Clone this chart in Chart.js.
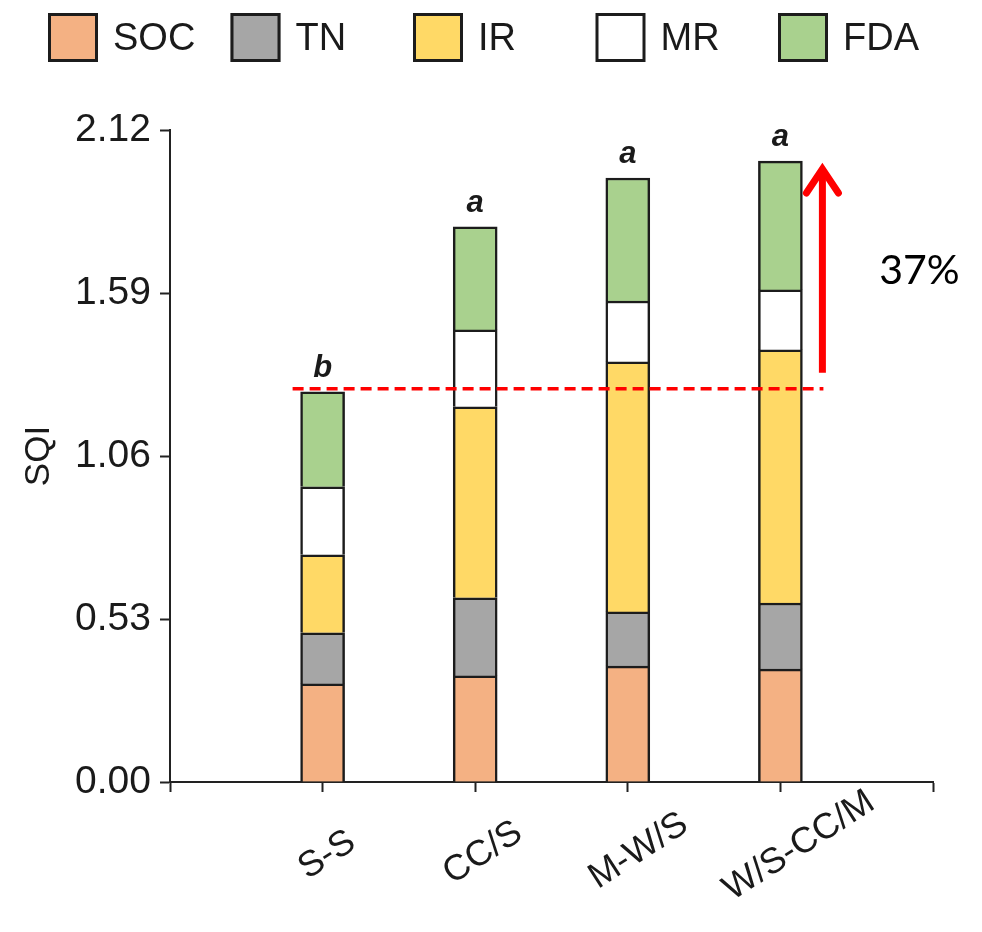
<!DOCTYPE html>
<html>
<head>
<meta charset="utf-8">
<title>SQI by rotation</title>
<script src="https://cdn.jsdelivr.net/npm/chart.js@4.4.1/dist/chart.umd.min.js"></script>
<style>
  html, body { margin: 0; padding: 0; background: #ffffff; }
  #wrap { width: 982px; height: 932px; }
</style>
</head>
<body>
<div id="wrap"><canvas id="chart" width="982" height="932"></canvas></div>
<script>
// Cropping systems on the x axis
const categories = ['S-S', 'CC/S', 'M-W/S', 'W/S-CC/M'];

// Contribution of each indicator to the soil quality index (stacked)
const socValues = [0.319, 0.345, 0.377, 0.367];
const tnValues  = [0.166, 0.254, 0.176, 0.215];
const irValues  = [0.254, 0.621, 0.813, 0.823];
const mrValues  = [0.221, 0.250, 0.198, 0.195];
const fdaValues = [0.309, 0.335, 0.400, 0.419];

// Significance letters above each bar
const groupLetters = ['b', 'a', 'a', 'a'];

// Y axis tick values
const yTicks = [0.00, 0.53, 1.06, 1.59, 2.12];

// Increase annotation
const increaseLabel = '37%';

const seriesNames  = ['SOC', 'TN', 'IR', 'MR', 'FDA'];
const seriesValues = [socValues, tnValues, irValues, mrValues, fdaValues];
const seriesColors = ['#f4b183', '#a6a6a6', '#ffd966', '#ffffff', '#a9d18e'];

const FONT = '"Liberation Sans", Arial, Helvetica, sans-serif';
const INK = '#1a1a1a';

// Empty slots on both ends leave half-gaps before the first and after the last bar
const axisLabels = ['', ...categories, ''];

const datasets = seriesNames.map((name, k) => ({
  label: name,
  data: [null, ...seriesValues[k], null],
  backgroundColor: seriesColors[k],
  borderColor: '#1c1c1c',
  borderWidth: 2.5,
  borderSkipped: 'start',
  barThickness: 44
}));

const totals = categories.map((_, i) => seriesValues.reduce((s, arr) => s + arr[i], 0));

// Legend row, evenly spaced cells
const legendRow = {
  id: 'legendRow',
  afterDraw(chart) {
    const ctx = chart.ctx;
    const startX = 48, step = 182.5, boxW = 50, boxH = 49, boxY = 13;
    ctx.save();
    chart.data.datasets.forEach((ds, k) => {
      const bx = startX + k * step;
      ctx.fillStyle = ds.backgroundColor;
      ctx.fillRect(bx, boxY, boxW, boxH);
      ctx.lineWidth = 3;
      ctx.strokeStyle = '#1c1c1c';
      ctx.strokeRect(bx + 1.5, boxY + 1.5, boxW - 3, boxH - 3);
      ctx.fillStyle = INK;
      ctx.font = '38px ' + FONT;
      ctx.textAlign = 'left';
      ctx.textBaseline = 'middle';
      ctx.fillText(ds.label, bx + boxW + 15, boxY + boxH / 2 + 2);
    });
    ctx.restore();
  }
};

// Letters, baseline line, arrow, percentage, category labels
const annotations = {
  id: 'annotations',
  afterDraw(chart) {
    const ctx = chart.ctx;
    const xs = chart.scales.x, ys = chart.scales.y;
    ctx.save();

    // significance letters
    ctx.fillStyle = INK;
    ctx.font = 'italic bold 31px ' + FONT;
    ctx.textAlign = 'center';
    ctx.textBaseline = 'alphabetic';
    categories.forEach((c, i) => {
      const px = xs.getPixelForValue(i + 1);
      const py = ys.getPixelForValue(totals[i]);
      ctx.fillText(groupLetters[i], px, py - 15);
    });

    // dashed reference line at the first system's total
    const baseY = ys.getPixelForValue(totals[0]) - 3;
    const lastX = xs.getPixelForValue(categories.length);
    const arrowX = lastX + 42;
    ctx.strokeStyle = '#ff0000';
    ctx.lineWidth = 3.5;
    ctx.setLineDash([11, 6]);
    ctx.beginPath();
    ctx.moveTo(xs.getPixelForValue(1) - 30, baseY);
    ctx.lineTo(arrowX + 1, baseY);
    ctx.stroke();
    ctx.setLineDash([]);

    // upward arrow to the highest total
    const topY = ys.getPixelForValue(totals[categories.length - 1]);
    const apex = topY + 8;
    const bottom = baseY - 16;
    ctx.lineWidth = 7;
    ctx.lineCap = 'butt';
    ctx.beginPath();
    ctx.moveTo(arrowX, bottom);
    ctx.lineTo(arrowX, apex + 4);
    ctx.stroke();
    ctx.lineCap = 'round';
    ctx.lineJoin = 'miter';
    ctx.beginPath();
    ctx.moveTo(arrowX - 16, apex + 24);
    ctx.lineTo(arrowX, apex);
    ctx.lineTo(arrowX + 16, apex + 24);
    ctx.stroke();

    // percentage text
    ctx.fillStyle = '#000000';
    ctx.font = '41px Lato, "Open Sans", sans-serif';
    ctx.textAlign = 'center';
    ctx.textBaseline = 'middle';
    ctx.fillText(increaseLabel, arrowX + 97, (apex + bottom) / 2);

    // rotated category labels, anchored a little left of the text centre
    ctx.fillStyle = INK;
    ctx.font = '36px ' + FONT;
    ctx.textAlign = 'left';
    ctx.textBaseline = 'middle';
    const axisY = xs.top;
    categories.forEach((c, i) => {
      const px = xs.getPixelForValue(i + 1);
      const w = ctx.measureText(c).width;
      ctx.save();
      ctx.translate(px - 3, axisY + 78);
      ctx.rotate(-33 * Math.PI / 180);
      ctx.fillText(c, -0.35 * w, 0);
      ctx.restore();
    });

    ctx.restore();
  }
};

new Chart(document.getElementById('chart'), {
  type: 'bar',
  data: { labels: axisLabels, datasets },
  options: {
    responsive: false,
    animation: false,
    devicePixelRatio: 1,
    layout: { padding: { top: 130, right: 49, left: 0, bottom: 0 } },
    plugins: { legend: { display: false }, tooltip: { enabled: false } },
    scales: {
      x: {
        stacked: true,
        offset: false,
        ticks: { display: false },
        grid: { drawOnChartArea: false, drawTicks: true, tickLength: 10, tickWidth: 2, tickColor: '#222', offset: false },
        border: { display: true, color: '#222', width: 2 },
        afterFit(s) { s.height = 150; }
      },
      y: {
        stacked: true,
        min: 0,
        max: 2.12,
        afterBuildTicks(s) { s.ticks = yTicks.map(v => ({ value: v })); },
        ticks: {
          callback: v => Number(v).toFixed(2),
          font: { size: 39, family: FONT },
          color: INK,
          padding: 9
        },
        grid: { drawOnChartArea: false, drawTicks: true, tickLength: 10, tickWidth: 2, tickColor: '#222' },
        border: { display: true, color: '#222', width: 2 },
        title: { display: true, text: 'SQI', font: { size: 35, family: FONT }, color: INK, padding: { top: 18, bottom: 0 } },
        afterFit(s) { s.width = 170; }
      }
    }
  },
  plugins: [legendRow, annotations]
});
</script>
</body>
</html>
